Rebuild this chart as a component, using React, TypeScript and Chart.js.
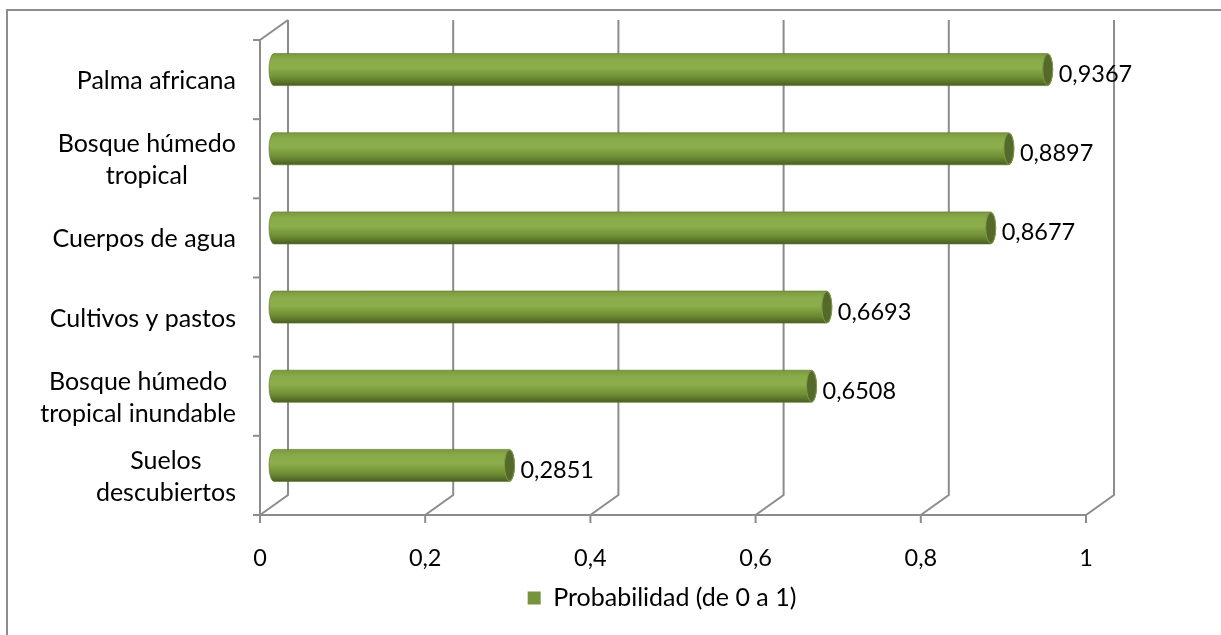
import { useEffect, useRef } from 'react';
import { Chart, registerables } from 'chart.js';

Chart.register(...registerables);

const categories: string[][] = [
  ['Palma africana'],
  ['Bosque húmedo', 'tropical'],
  ['Cuerpos de agua'],
  ['Cultivos y pastos'],
  ['Bosque húmedo', 'tropical inundable'],
  ['Suelos', 'descubiertos'],
];
const values: number[] = [0.9367, 0.8897, 0.8677, 0.6693, 0.6508, 0.2851];
const seriesName = 'Probabilidad (de 0 a 1)';
const xMin = 0;
const xMax = 1;
const xStep = 0.2;

const FONT = 'Lato';
const TEXT_SIZE = 25;
const NUM_SIZE = 23.5;
const GRID = '#8c8c8c';
const DX = 28;
const DY = -20;

const fmt = (v: number) => String(Math.round(v * 10000) / 10000).replace('.', ',');

const plugin3d = {
  id: 'cyl3d',
  beforeDraw(chart: any) {
    const { ctx } = chart;
    ctx.save();
    ctx.strokeStyle = '#8c8c8c';
    ctx.lineWidth = 2;
    ctx.beginPath();
    ctx.moveTo(7, chart.height);
    ctx.lineTo(7, 10);
    ctx.lineTo(chart.width, 10);
    ctx.stroke();
    ctx.restore();
  },
  beforeDatasetsDraw(chart: any) {
    const { ctx, chartArea: a, scales } = chart;
    const x = scales.x;
    const y = scales.y;
    ctx.save();
    ctx.strokeStyle = GRID;
    ctx.lineWidth = 2;
    ctx.lineJoin = 'miter';
    // back wall gridlines and floor diagonals
    x.ticks.forEach((t: any) => {
      const px = x.getPixelForValue(t.value);
      ctx.beginPath();
      ctx.moveTo(px, a.bottom);
      ctx.lineTo(px + DX, a.bottom + DY);
      ctx.lineTo(px + DX, a.top + DY);
      ctx.stroke();
      ctx.beginPath();
      ctx.moveTo(px, a.bottom);
      ctx.lineTo(px, a.bottom + 8);
      ctx.stroke();
    });
    // front horizontal axis
    ctx.beginPath();
    ctx.moveTo(a.left - 7, a.bottom);
    ctx.lineTo(a.right, a.bottom);
    ctx.stroke();
    // left axis
    ctx.beginPath();
    ctx.moveTo(a.left + DX, a.top + DY);
    ctx.lineTo(a.left, a.top);
    ctx.lineTo(a.left, a.bottom);
    ctx.stroke();
    const n = categories.length;
    const band = y.getPixelForValue(1) - y.getPixelForValue(0);
    for (let i = 0; i <= n; i++) {
      const yb = i < n ? y.getPixelForValue(i) - band / 2 : y.getPixelForValue(n - 1) + band / 2;
      ctx.beginPath();
      ctx.moveTo(a.left - 7, yb);
      ctx.lineTo(a.left, yb);
      ctx.stroke();
    }
    // category labels: block right aligned, lines centered in block
    ctx.fillStyle = '#000';
    ctx.font = `${TEXT_SIZE}px ${FONT}`;
    ctx.textBaseline = 'alphabetic';
    ctx.textAlign = 'center';
    const lh = 32;
    categories.forEach((lines, i) => {
      const cy = y.getPixelForValue(i);
      const w = Math.max(...lines.map((l) => ctx.measureText(l).width));
      const cx = a.left - 24 - w / 2;
      lines.forEach((l, j) => {
        ctx.fillText(l, cx, cy + 9.5 + (j - (lines.length - 1) / 2) * lh);
      });
    });
    ctx.restore();
  },
  beforeDatasetDraw() {
    return false;
  },
  afterDatasetsDraw(chart: any) {
    const { ctx } = chart;
    const meta = chart.getDatasetMeta(0);
    ctx.save();
    meta.data.forEach((el: any, i: number) => {
      const p = el.getProps(['x', 'y', 'base', 'height'], true);
      const x0 = p.base + DX / 2;
      const x1 = p.x + DX / 2;
      const cy = p.y + DY / 2;
      const ry = p.height / 2;
      const rx = 5;
      const top = cy - ry;
      const bot = cy + ry;
      const g = ctx.createLinearGradient(0, top, 0, bot);
      g.addColorStop(0, '#7a9a3e');
      g.addColorStop(0.2, '#8aab4a');
      g.addColorStop(0.45, '#8cae4b');
      g.addColorStop(0.75, '#6f8e34');
      g.addColorStop(1, '#4a5e22');
      ctx.beginPath();
      ctx.moveTo(x0, top);
      ctx.lineTo(x1, top);
      ctx.ellipse(x1, cy, rx, ry, 0, -Math.PI / 2, Math.PI / 2, false);
      ctx.lineTo(x0, bot);
      ctx.ellipse(x0, cy, rx, ry, 0, Math.PI / 2, (3 * Math.PI) / 2, false);
      ctx.closePath();
      ctx.fillStyle = g;
      ctx.fill();
      ctx.strokeStyle = 'rgba(90,115,40,0.6)';
      ctx.lineWidth = 1;
      ctx.stroke();
      // end cap
      ctx.beginPath();
      ctx.ellipse(x1, cy, rx, ry - 0.5, 0, 0, Math.PI * 2);
      ctx.fillStyle = '#55692b';
      ctx.fill();
      ctx.strokeStyle = '#7d9b44';
      ctx.lineWidth = 1;
      ctx.stroke();
      // value label
      ctx.fillStyle = '#000';
      ctx.font = `${NUM_SIZE}px ${FONT}`;
      ctx.textAlign = 'left';
      ctx.textBaseline = 'alphabetic';
      ctx.fillText(fmt(values[i]), x1 + 11, cy + 12.5);
    });
    ctx.restore();
  },
};

export default function App() {
  const ref = useRef<HTMLCanvasElement | null>(null);
  useEffect(() => {
    if (!ref.current) return;
    const chart = new Chart(ref.current, {
      type: 'bar',
      data: {
        labels: categories.map((c) => c.join(' ')),
        datasets: [
          {
            label: seriesName,
            data: values,
            backgroundColor: '#77933c',
            borderWidth: 0,
            barPercentage: 0.405,
            categoryPercentage: 1,
          },
        ],
      },
      options: {
        indexAxis: 'y',
        responsive: false,
        animation: false,
        events: [],
        layout: { padding: { top: 40, left: 238, right: 135, bottom: 14.5 } },
        scales: {
          x: {
            min: xMin,
            max: xMax,
            grid: { display: false, drawTicks: false },
            border: { display: false },
            ticks: {
              stepSize: xStep,
              padding: 29.3,
              color: '#000',
              font: { family: FONT, size: NUM_SIZE },
              callback: (v: any) => fmt(Number(v)),
            },
            afterFit: (s: any) => {
              s.height = 60.5;
            },
          },
          y: {
            grid: { display: false, drawTicks: false },
            border: { display: false },
            ticks: { display: false },
            afterFit: (s: any) => {
              s.width = 22;
            },
          },
        },
        plugins: {
          legend: {
            position: 'bottom',
            labels: {
              boxWidth: 13,
              boxHeight: 13,
              padding: 10,
              color: '#000',
              font: { family: FONT, size: TEXT_SIZE },
            },
          },
          tooltip: { enabled: false },
        },
      },
      plugins: [plugin3d],
    } as any);
    return () => chart.destroy();
  }, []);
  return (
    <div style={{ position: 'fixed', left: 0, top: 0, width: 1221, height: 635, background: '#fff' }}>
      <canvas ref={ref} width={1221} height={635} style={{ display: 'block' }} />
    </div>
  );
}
